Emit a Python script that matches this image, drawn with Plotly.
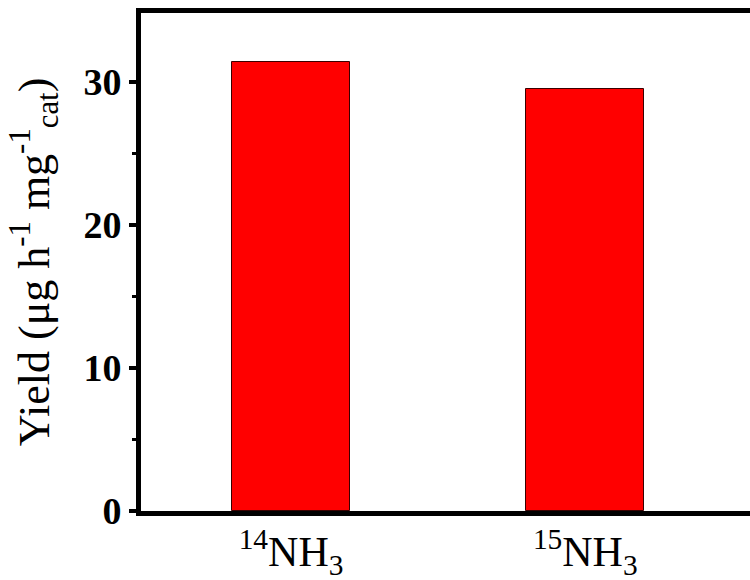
import plotly.graph_objects as go

# Ammonia yield for the two isotope-labelled nitrogen feeds
categories = ["<sup>14</sup>NH<sub>3</sub>", "<sup>15</sup>NH<sub>3</sub>"]
yields = [31.4, 29.5]
y_ticks = [0, 10, 20, 30]

serif = "Liberation Serif, Times New Roman, serif"

fig = go.Figure(
    go.Bar(
        x=[0, 1],
        y=yields,
        width=0.40,
        marker=dict(color="#ff0000", line=dict(color="#3a0000", width=1)),
    )
)

fig.update_layout(
    width=750,
    height=580,
    margin=dict(l=141, r=0, t=13, b=69),
    plot_bgcolor="white",
    paper_bgcolor="white",
    showlegend=False,
    bargap=0,
)

fig.update_xaxes(
    range=[-0.51, 1.56],
    tickmode="array",
    tickvals=[0, 1],
    ticktext=categories,
    ticks="",
    showline=True,
    linecolor="black",
    linewidth=5,
    mirror=True,
    showgrid=False,
    zeroline=False,
    tickfont=dict(family=serif, size=42, color="black"),
)

fig.update_yaxes(
    range=[0, 34.8],
    tickmode="array",
    tickvals=y_ticks,
    ticktext=[f"<b>{v}</b>" for v in y_ticks],
    ticks="outside",
    ticklen=7,
    tickwidth=4,
    tickcolor="black",
    minor=dict(ticks="outside", ticklen=4, tickwidth=3, tickcolor="black", dtick=5, tick0=0),
    showline=True,
    linecolor="black",
    linewidth=5,
    showgrid=False,
    zeroline=False,
    tickfont=dict(family=serif, size=38, color="black"),
    title=dict(
        text="Yield (μg h<sup>-1</sup> mg<sup>-1</sup><sub>cat</sub>)",
        font=dict(family=serif, size=44, color="black"),
        standoff=22,
    ),
)

fig.write_html("out.html")
